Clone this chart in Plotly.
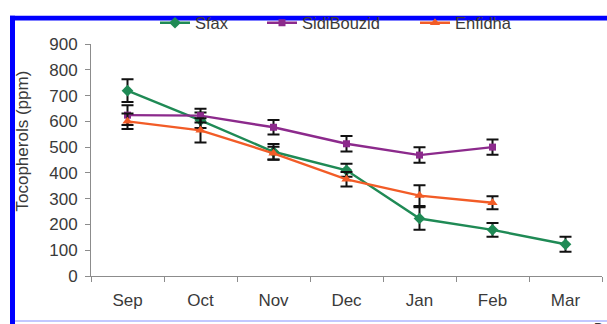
import plotly.graph_objects as go

# Monthly tocopherol content per region, with standard deviations
months = ["Sep", "Oct", "Nov", "Dec", "Jan", "Feb", "Mar"]

sfax = [719, 604, 482, 410, 223, 179, 123]
sfax_err = [44, 30, 30, 25, 44, 27, 29]

sidi_bouzid = [624, 622, 577, 513, 469, 500]
sidi_bouzid_err = [38, 27, 28, 30, 30, 30]

enfidha = [600, 565, 476, 375, 312, 284]
enfidha_err = [30, 47, 25, 28, 40, 25]

series_names = ["Sfax", "SidiBouzid", "Enfidha"]
colors = ["#1f8a55", "#8c2a8c", "#f25c27"]
symbols = ["diamond", "square", "triangle-up"]
marker_sizes = [9, 7, 9]

W, H = 607, 324
L, R, T, B = 91, 5, 38, 48
PW, PH = W - L - R, H - T - B


def px_x(p):
    return (p - L) / PW


def px_y(p):
    return (H - B - p) / PH


text_color = "#3a3a3a"
font_family = "Liberation Sans, Arial, sans-serif"

fig = go.Figure()
values = [sfax, sidi_bouzid, enfidha]
errors = [sfax_err, sidi_bouzid_err, enfidha_err]
legend_ids = ["legend", "legend2", "legend3"]
for i, name in enumerate(series_names):
    fig.add_trace(go.Scatter(
        x=months[:len(values[i])],
        y=values[i],
        name=name,
        mode="lines+markers",
        line=dict(color=colors[i], width=2.4),
        marker=dict(color=colors[i], symbol=symbols[i], size=marker_sizes[i]),
        error_y=dict(type="data", array=errors[i], color="#111111",
                     thickness=2, width=6),
        legend=legend_ids[i],
    ))

# one single-entry legend per series, laid out in a row above the plot
legend_text_x = [195, 302, 455]
legend_common = dict(
    orientation="h",
    yanchor="middle",
    y=px_y(16.5),
    xanchor="left",
    bgcolor="rgba(0,0,0,0)",
    borderwidth=0,
    font=dict(family=font_family, size=16.5, color=text_color),
)
legend_layouts = {}
for lid, tx in zip(legend_ids, legend_text_x):
    legend_layouts[lid] = dict(legend_common, x=px_x(tx - 40))

axis_font = dict(family=font_family, size=17, color=text_color)

fig.update_layout(
    width=W,
    height=H,
    margin=dict(l=L, r=R, t=T, b=B, pad=0),
    paper_bgcolor="white",
    plot_bgcolor="white",
    showlegend=True,
    **legend_layouts,
    xaxis=dict(
        type="category",
        categoryorder="array",
        categoryarray=months,
        range=[-0.5, len(months) - 0.5],
        tickson="boundaries",
        ticks="outside",
        ticklen=5,
        tickcolor="#8c8c8c",
        showline=True,
        linecolor="#8c8c8c",
        linewidth=1,
        showgrid=False,
        zeroline=False,
        tickfont=axis_font,
        ticklabelstandoff=9,
    ),
    yaxis=dict(
        range=[0, 900],
        dtick=100,
        ticks="outside",
        ticklen=5,
        tickcolor="#8c8c8c",
        showline=True,
        linecolor="#8c8c8c",
        linewidth=1,
        showgrid=False,
        zeroline=False,
        tickfont=axis_font,
        ticklabelstandoff=4,
    ),
    annotations=[
        dict(text="Tocopherols (ppm)", textangle=-90, showarrow=False,
             xref="paper", yref="paper", x=px_x(22.5), y=px_y(137.5),
             xanchor="center", yanchor="middle",
             font=dict(family=font_family, size=17, color=text_color)),
        dict(text="Period", showarrow=False,
             xref="paper", yref="paper", x=px_x(592), y=px_y(319.5),
             xanchor="left", yanchor="top",
             font=dict(family=font_family, size=13, color=text_color)),
    ],
    shapes=[
        # blue frame: top and left bands, thin light line at the bottom
        dict(type="rect", xref="paper", yref="paper", layer="above",
             x0=px_x(10), x1=px_x(W + 2), y0=px_y(9), y1=px_y(14),
             fillcolor="#0000ff", line=dict(width=0)),
        dict(type="rect", xref="paper", yref="paper", layer="above",
             x0=px_x(10), x1=px_x(15), y0=px_y(9), y1=px_y(H + 2),
             fillcolor="#0000ff", line=dict(width=0)),
        dict(type="rect", xref="paper", yref="paper", layer="above",
             x0=px_x(15), x1=px_x(W + 2), y0=px_y(321.5), y1=px_y(323),
             fillcolor="#aeb6ff", line=dict(width=0)),
    ],
)

fig.write_html("out.html")
